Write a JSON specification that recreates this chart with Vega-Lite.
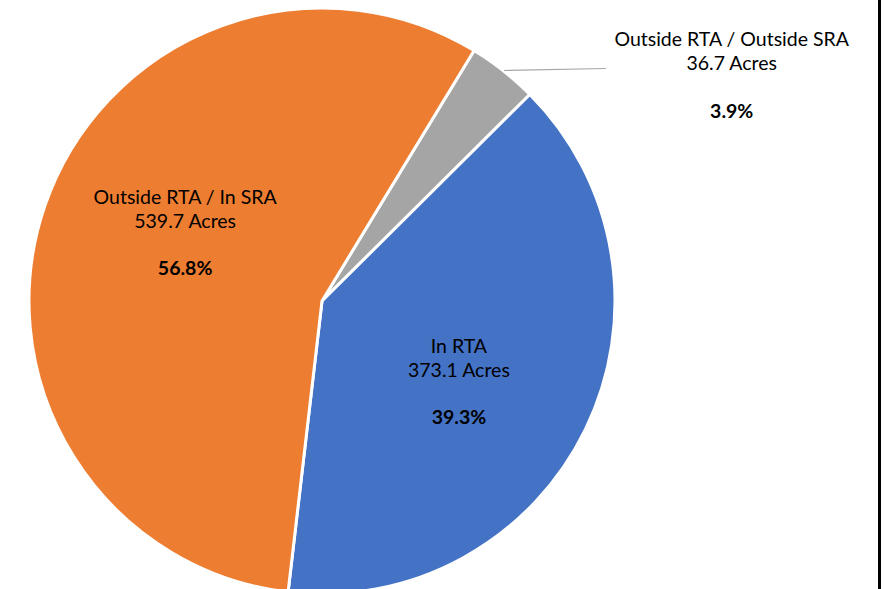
{
  "$schema": "https://vega.github.io/schema/vega-lite/v6.json",
  "autosize": "none",
  "width": 644,
  "height": 602,
  "padding": {"left": 0, "top": 0, "right": 241, "bottom": 0},
  "background": "white",
  "config": {"view": {"stroke": null}},
  "data": {
    "values": [
      {"category": "Outside RTA / Outside SRA", "label": ["Outside RTA / Outside SRA", "36.7 Acres"], "acres": 36.7, "pct": "3.9%", "seq": 1},
      {"category": "In RTA", "label": ["In RTA", "373.1 Acres"], "acres": 373.1, "pct": "39.3%", "seq": 2},
      {"category": "Outside RTA / In SRA", "label": ["Outside RTA / In SRA", "539.7 Acres"], "acres": 539.7, "pct": "56.8%", "seq": 3}
    ]
  },
  "encoding": {
    "theta": {"field": "acres", "type": "quantitative", "stack": true, "scale": {"range": [0.5458, 6.829]}},
    "order": {"field": "seq", "type": "quantitative"}
  },
  "layer": [
    {
      "mark": {"type": "arc", "outerRadius": 293, "stroke": "white", "strokeWidth": 3},
      "encoding": {
        "color": {
          "field": "category",
          "type": "nominal",
          "legend": null,
          "scale": {
            "domain": ["Outside RTA / Outside SRA", "In RTA", "Outside RTA / In SRA"],
            "range": ["#A5A5A5", "#4472C4", "#ED7D31"]
          }
        }
      }
    },
    {
      "mark": {
        "type": "text",
        "font": "Lato",
        "fontSize": 19.5,
        "lineHeight": 24,
        "baseline": "middle",
        "align": "center",
        "color": "black",
        "radius": {"expr": "datum.category == 'Outside RTA / Outside SRA' ? 292 : 150"},
        "dx": {"expr": "datum.category == 'Outside RTA / Outside SRA' ? 229 : (datum.category == 'In RTA' ? 2 : 5)"},
        "dy": {"expr": "datum.category == 'Outside RTA / Outside SRA' ? -32 : (datum.category == 'In RTA' ? -20 : -54)"}
      },
      "encoding": {"text": {"field": "label"}}
    },
    {
      "mark": {
        "type": "text",
        "font": "Lato",
        "fontSize": 19.5,
        "fontWeight": "bold",
        "baseline": "middle",
        "align": "center",
        "color": "black",
        "radius": {"expr": "datum.category == 'Outside RTA / Outside SRA' ? 292 : 150"},
        "dx": {"expr": "datum.category == 'Outside RTA / Outside SRA' ? 229 : (datum.category == 'In RTA' ? 2 : 5)"},
        "dy": {"expr": "datum.category == 'Outside RTA / Outside SRA' ? 40 : (datum.category == 'In RTA' ? 51 : 17)"}
      },
      "encoding": {"text": {"field": "pct"}}
    },
    {
      "data": {"values": [{}]},
      "mark": {"type": "rule", "color": "#A6A6A6", "strokeWidth": 1.2},
      "encoding": {
        "theta": null,
        "order": null,
        "x": {"value": 504},
        "x2": {"value": 606},
        "y": {"value": 70.5},
        "y2": {"value": 68.5}
      }
    },
    {
      "data": {"values": [{}]},
      "mark": {"type": "rule", "color": "black", "strokeWidth": 3},
      "encoding": {
        "theta": null,
        "order": null,
        "x": {"value": 879.5},
        "y": {"value": 0},
        "y2": {"value": 602}
      }
    }
  ]
}
